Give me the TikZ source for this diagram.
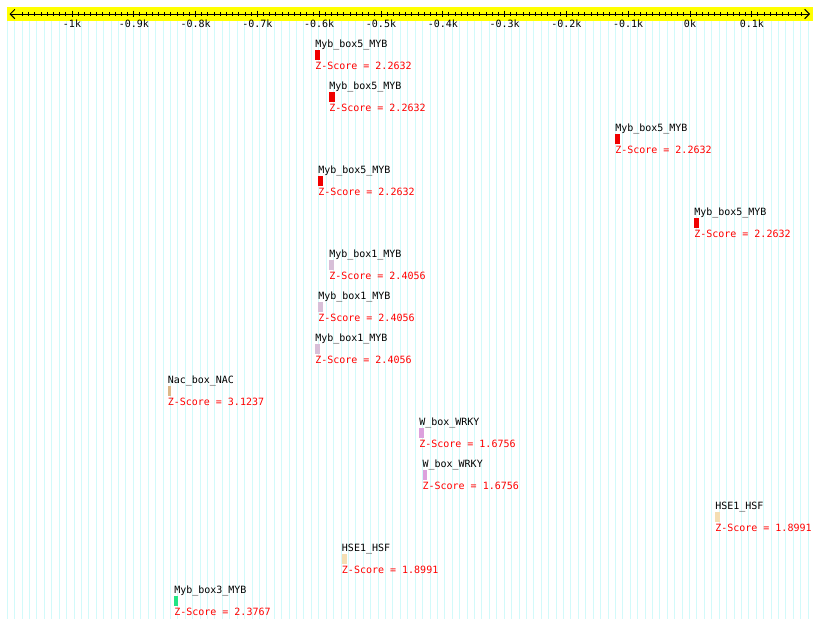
\documentclass[tikz,border=0pt]{standalone}
\usepackage{fontspec}
\setmonofont{DejaVu Sans Mono}
\usepackage{xcolor}
\definecolor{band}{HTML}{FFFF00}
\definecolor{gridc}{HTML}{D2FAFA}
\definecolor{zred}{HTML}{FF0000}
\definecolor{mybfive}{HTML}{F00000}
\definecolor{mybone}{HTML}{D8BFD8}
\definecolor{nacc}{HTML}{DEB887}
\definecolor{wrky}{HTML}{DDA0DD}
\definecolor{hsf}{HTML}{F5DEB3}
\definecolor{mybthree}{HTML}{22E584}
\usepackage{tikz}
\usetikzlibrary{arrows.meta}
\tikzset{
  txt/.style={font=\ttfamily\fontsize{7.5}{9}\selectfont,inner sep=0pt,anchor=base west},
  zlbl/.style={txt,text=zred},
  ticklbl/.style={txt,anchor=base},
  motif/.style={draw=none,inner sep=0pt,minimum height=7.5pt,anchor=north west},
  axisln/.style={line width=0.75pt,{Straight Barb[length=3.5pt,width=7pt]}-{Straight Barb[length=3.5pt,width=7pt]}},
}

\begin{document}
\begin{tikzpicture}[x=0.75pt,y=-0.75pt]
  \fill[white] (0,0) rectangle (820,629);
  \useasboundingbox (0,0) rectangle (820,629);
  % grid
  \foreach \k in {0,1,...,108}
    \draw[gridc,line width=0.75pt] ({7.3+7.416*\k},21) -- ++(0,598);
  % ruler
  \fill[band] (7,7.3) rectangle (812.5,20.7);
  \coordinate (axl) at (9.5,14);
  \coordinate (axr) at (810,14);
  \draw[axisln] (axl) -- (axr);
  \foreach \v in {-1080,-1070,...,180}
    \draw[line width=0.75pt] ({690+0.618*\v},12) -- ++(0,4);
  \foreach \v/\t in {-1000/-1k,-900/-0.9k,-800/-0.8k,-700/-0.7k,-600/-0.6k,-500/-0.5k,-400/-0.4k,-300/-0.3k,-200/-0.2k,-100/-0.1k,0/0k,100/0.1k} {
    \draw[line width=0.75pt] ({690+0.618*\v},10.7) -- ++(0,6.6);
    \node[ticklbl] (t\v) at ({690+0.618*\v},27.5) {\t};
  }
  % motifs
  \foreach \i/\x/\w/\c/\n/\z in {0/315/5/mybfive/Myb\_box5\_MYB/2.2632,1/329/5.5/mybfive/Myb\_box5\_MYB/2.2632,2/615/5/mybfive/Myb\_box5\_MYB/2.2632,3/318/5/mybfive/Myb\_box5\_MYB/2.2632,4/694/5/mybfive/Myb\_box5\_MYB/2.2632,5/329/5/mybone/Myb\_box1\_MYB/2.4056,6/318/5/mybone/Myb\_box1\_MYB/2.4056,7/315/4.5/mybone/Myb\_box1\_MYB/2.4056,8/167.5/3.5/nacc/Nac\_box\_NAC/3.1237,9/419/5/wrky/W\_box\_WRKY/1.6756,10/422.3/4.5/wrky/W\_box\_WRKY/1.6756,11/715/5/hsf/HSE1\_HSF/1.8991,12/341.7/5/hsf/HSE1\_HSF/1.8991,13/174/3.5/mybthree/Myb\_box3\_MYB/2.3767} {
    \node[txt] (lbl\i) at (\x,47.5+42*\i) {\n};
    \node[motif,fill=\c,minimum width=\w*0.75pt] (m\i) at (\x,49.5+42*\i) {};
    \node[zlbl] (z\i) at (\x,69+42*\i) {Z-Score = \z};
  }
\end{tikzpicture}
\end{document}
